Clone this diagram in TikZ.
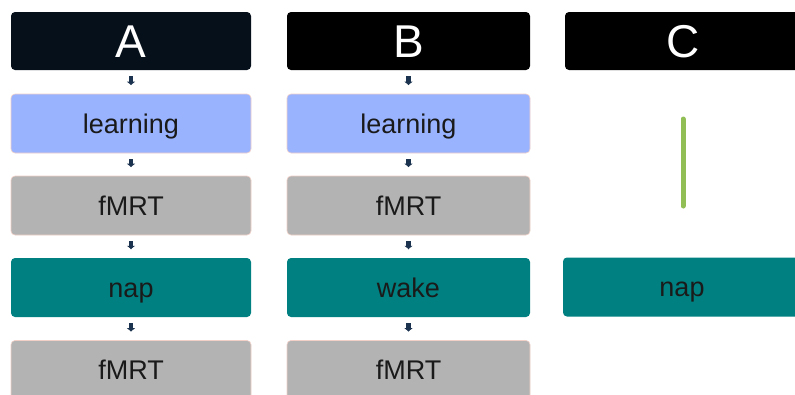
\documentclass[tikz,border=0pt]{standalone}
\usepackage{fontspec}
\setmainfont{Liberation Sans}
\usetikzlibrary{arrows.meta}
\definecolor{hdrA}{HTML}{06101A}
\definecolor{learnfill}{HTML}{99B3FF}
\definecolor{grayfill}{HTML}{B3B3B3}
\definecolor{tealfill}{HTML}{008080}
\definecolor{rimpink}{HTML}{F2D0C8}
\definecolor{linkblue}{HTML}{1C3350}
\definecolor{leafgreen}{HTML}{92BF55}
\definecolor{inktext}{HTML}{1A1A1A}
\tikzset{
  box/.style={rectangle, rounded corners=4pt, inner sep=0pt, minimum height=59pt,
              font=\fontsize{27}{30}\selectfont, text=inktext,
              text height=19.4pt, text depth=0pt},
  header/.style={box, minimum height=58pt, text=white, draw=none,
                 font=\fontsize{46}{50}\selectfont, text height=33pt},
  learnbox/.style={box, fill=learnfill, draw=rimpink, line width=0.6pt},
  graybox/.style={box, fill=grayfill, draw=rimpink, line width=0.6pt},
  tealbox/.style={box, fill=tealfill, draw=none},
  link/.style={draw=linkblue, line width=4.5pt, -{Latex[length=3.5pt,width=9pt]},
               shorten <=6pt, shorten >=8.5pt},
}
\begin{document}
\begin{tikzpicture}[x=1pt, y=-1pt]
\useasboundingbox (0,0) rectangle (795,394);
\clip (0,0) rectangle (795,394);

% column A
\node[header, fill=hdrA, minimum width=240pt] (a0) at (131,41) {A};
\node[learnbox, minimum width=240pt] (a1) at (131,123.5) {learning};
\node[graybox, minimum width=240pt] (a2) at (131,205.5) {fMRT};
\node[tealbox, minimum width=240pt] (a3) at (131,287.5) {nap};
\node[graybox, minimum width=240pt] (a4) at (131,370) {fMRT};
\draw[link] (a0) -- (a1);
\draw[link] (a1) -- (a2);
\draw[link] (a2) -- (a3);
\draw[link] (a3) -- (a4);

% column B
\node[header, fill=black, minimum width=243pt] (b0) at (408.5,41) {B};
\node[learnbox, minimum width=243pt] (b1) at (408.5,123.5) {learning};
\node[graybox, minimum width=243pt] (b2) at (408.5,205.5) {fMRT};
\node[tealbox, minimum width=243pt] (b3) at (408.5,287.5) {wake};
\node[graybox, minimum width=243pt] (b4) at (408.5,370) {fMRT};
\draw[link] (b0) -- (b1);
\draw[link] (b1) -- (b2);
\draw[link] (b2) -- (b3);
\draw[link] (b3) -- (b4);

% column C
\node[header, fill=black, minimum width=236pt] (c0) at (683,41) {C};
\node[tealbox, minimum width=238pt] (c1) at (682,287) {nap};
\coordinate (g0) at (683,119);
\coordinate (g1) at (683,206);
\draw[leafgreen, line width=5pt, line cap=round] (g0) -- (g1);
\end{tikzpicture}
\end{document}
